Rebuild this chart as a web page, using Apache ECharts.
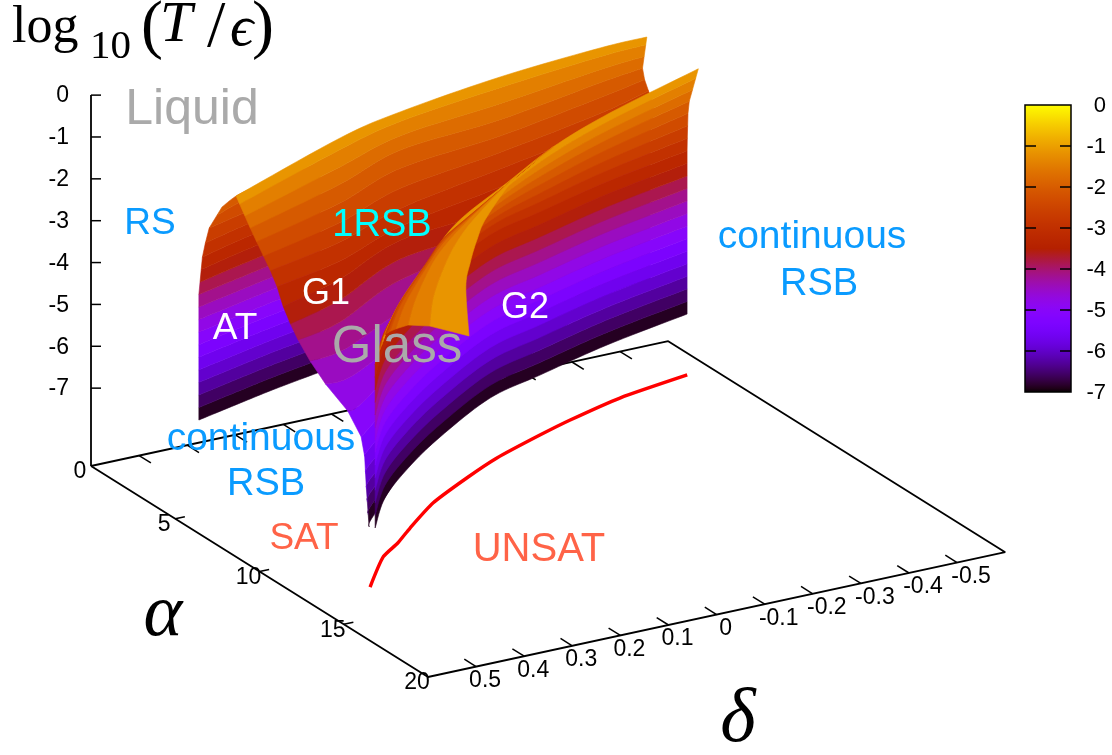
<!DOCTYPE html>
<html><head><meta charset="utf-8">
<style>html,body{margin:0;padding:0;background:#fff}#c{width:1112px;height:755px}</style>
<script src="https://cdn.jsdelivr.net/npm/echarts@6/dist/echarts.min.js"></script>
</head><body><div id="c"></div>
<script>
// ---------- axis ticks ----------
const alphaTicks=[0,5,10,15,20];
const deltaTicks=[0.5,0.4,0.3,0.2,0.1,0,-0.1,-0.2,-0.3,-0.4,-0.5];
const zTicks=[0,-1,-2,-3,-4,-5,-6,-7];
const cbTicks=[0,-1,-2,-3,-4,-5,-6,-7];
// ---------- SAT/UNSAT line on the floor ----------
const satAlpha=[12.78,10.86,10.10,9.23,7.82,6.57,5.62,4.66,4.06,3.27,2.67];
const satDelta=[0.4675,0.373,0.316,0.26,0.163,0.049,-0.047,-0.17,-0.254,-0.385,-0.546];
// ---------- AT sheet: rows are log10(T/eps), columns run along the sheet ----------
const atZ=[-7,-4,-3,-2.5,-2];
const atAlpha=[[3.89,3.32,2.86,2.35],[3.89,3.32,2.86,2.35],[3.98,3.32,2.86,2.35],[3.79,3.32,2.86,2.35],[3.98,3.32,2.86,2.35]];
const atDelta=[[0.512,0.406,0.318,0.206],[0.512,0.406,0.318,0.206],[0.507,0.406,0.318,0.206],[0.487,0.406,0.318,0.206],[0.467,0.406,0.318,0.206]];
// ---------- G1 sheet ----------
const g1Z=[-7,-6,-5.3,-5,-4.5,-4,-3.5,-3,-2,-1.1];
const g1Alpha=[
[14.02,13.25,9.37,5.66,1.55,0.90],
[13.96,13.14,10.2,6.49,1.67,1.03],
[13.18,12.71,9.45,6.44,1.62,0.98],
[12.17,11.76,8.23,5.92,1.46,0.81],
[9.91,9.76,7.58,5.28,1.87,0.52],
[8.61,7.98,5.93,4.64,1.93,0.23],
[7.99,6.85,4.95,4.36,2.00,0.30],
[6.98,6.21,4.80,3.36,2.07,0.79],
[6.20,4.58,3.03,2.44,1.29,0.87],
[6.07,3.57,2.65,1.71,1.19,1.13]];
const g1Delta=[
[0.513,0.476,0.244,-0.052,-0.404,-0.531],
[0.517,0.476,0.274,-0.023,-0.400,-0.526],
[0.494,0.465,0.247,-0.025,-0.401,-0.528],
[0.477,0.442,0.204,-0.043,-0.407,-0.534],
[0.475,0.403,0.182,-0.065,-0.393,-0.544],
[0.471,0.362,0.165,-0.088,-0.391,-0.554],
[0.476,0.322,0.131,-0.098,-0.388,-0.552],
[0.462,0.300,0.126,-0.133,-0.386,-0.545],
[0.4825,0.243,0.064,-0.165,-0.413,-0.515],
[0.511,0.207,0.050,-0.191,-0.417,-0.516]];
// ---------- G2 sheet ----------
const g2Z=[-7,-5,-3,-2,-1.05];
const g2Alpha=[
[14.18,12.22,10.46,8.76,6.78,5.92,4.82,3.86],
[14.18,12.22,10.46,8.76,6.78,5.92,4.82,3.86],
[14.18,12.22,10.46,8.76,6.78,5.92,4.82,3.86],
[16.27,14.27,12.11,10.05,8.06,6.68,5.28,3.90],
[18.28,16.25,13.84,11.48,9.43,7.59,6.06,4.30]];
const g2Delta=[
[0.506,0.417,0.307,0.181,0.008,-0.126,-0.304,-0.504],
[0.506,0.417,0.307,0.181,0.008,-0.126,-0.304,-0.504],
[0.506,0.417,0.307,0.181,0.008,-0.126,-0.304,-0.504],
[0.567,0.472,0.345,0.208,0.034,-0.114,-0.290,-0.505],
[0.630,0.528,0.387,0.242,0.066,-0.095,-0.267,-0.512]];
// ---------- fold of the G2 sheet (columns are across, rows run along) ----------
const foldZ=[-2.8,-2,-1.6,-1.3,-1];
const foldAlpha=[
[13.12,15.24,16.31,17.60,19.78],
[11.21,13.50,14.53,15.55,16.28],
[8.80,11.14,12.32,13.41,14.65],
[7.30,9.71,10.96,11.97,13.14],
[6.07,8.47,9.67,10.62,11.67],
[4.25,6.55,7.68,8.51,9.24],
[2.44,4.80,5.97,6.93,7.95]];
const foldDelta=[
[0.449,0.508,0.512,0.512,0.507],
[0.354,0.424,0.433,0.432,0.391],
[0.214,0.290,0.321,0.332,0.325],
[0.126,0.204,0.238,0.256,0.258],
[0.029,0.109,0.147,0.172,0.186],
[-0.122,-0.044,-0.006,0.021,0.038],
[-0.275,-0.192,-0.151,-0.118,-0.082]];

const T=m=>m[0].map((_,i)=>m.map(r=>r[i]));
const sheets=[
 {z:atZ,alpha:atAlpha,delta:atDelta},
 {z:g1Z,alpha:g1Alpha,delta:g1Delta},
 {z:g2Z,alpha:g2Alpha,delta:g2Delta},
 {z:foldZ,alpha:T(foldAlpha),delta:T(foldDelta)}
];
// ---------- view of the box (parallel projection) ----------
const Z_FLOOR=-8.86, D0=0.6;
function project(a,d,z){
  const w=D0-d;
  return [91+16.85*a+481*w, 466+10.55*a-104*w-41.86*(z-Z_FLOOR)];
}
function palette(x){
  x=Math.max(0,Math.min(1,x));
  const r=Math.sqrt(x),g=x*x*x,b=Math.max(0,Math.sin(2*Math.PI*x));
  return 'rgb('+Math.round(r*255)+','+Math.round(g*255)+','+Math.round(b*255)+')';
}
const STEP=0.3;
const zColor=z=>palette((z+7)/7);

function contour(sh,z){
  const rows=sh.z, nc=sh.alpha[0].length;
  let i=0; while(i<rows.length-2&&z>rows[i+1]) i++;
  const t=(z-rows[i])/(rows[i+1]-rows[i]);
  const p=[];
  for(let c=0;c<nc;c++){
    const a=sh.alpha[i][c]+t*(sh.alpha[i+1][c]-sh.alpha[i][c]);
    const d=sh.delta[i][c]+t*(sh.delta[i+1][c]-sh.delta[i][c]);
    p.push(project(a,d,z));
  }
  const out=[];
  for(let c=0;c<nc-1;c++){
    const p0=p[Math.max(c-1,0)],p1=p[c],p2=p[c+1],p3=p[Math.min(c+2,nc-1)];
    for(let k=0;k<10;k++){
      const u=k/10,u2=u*u,u3=u2*u;
      out.push([0,1].map(j=>0.5*(2*p1[j]+(p2[j]-p0[j])*u+(2*p0[j]-5*p1[j]+4*p2[j]-p3[j])*u2+(3*p1[j]-p0[j]-3*p2[j]+p3[j])*u3)));
    }
  }
  out.push(p[nc-1]);
  return out;
}
function bandsOf(sIdx){
  const sh=sheets[sIdx],zmin=sh.z[0],zmax=sh.z[sh.z.length-1],res=[];
  for(let k=0;k<24;k++){
    const lo=-7+k*STEP,hi=lo+STEP;
    if(hi<=zmin||lo>=zmax) continue;
    res.push([sIdx,Math.max(lo,zmin),Math.min(hi,zmax),lo+STEP/2]);
  }
  return res;
}
const bandRender=(params,api)=>{
  const sh=sheets[api.value(0)],z1=api.value(1),z2=api.value(2),c=zColor(api.value(3));
  const low=contour(sh,z1),high=contour(sh,z2).reverse();
  const pts=low.concat(high).map(q=>api.coord(q));
  return {type:'polygon',shape:{points:pts},style:{fill:c,stroke:c,lineWidth:0.6},silent:true};
};
const surf=i=>({type:'custom',coordinateSystem:'cartesian2d',renderItem:bandRender,data:bandsOf(i),
  encode:{x:[],y:[]},silent:true,clip:false,animation:false,z:10+i});

const frameA=[[0,0.6],[20,0.6],[20,-0.6],[0,-0.6],[0,0.6]];
const frameData=frameA.map(p=>project(p[0],p[1],Z_FLOOR));
const zAxisData=[project(0,0.6,0),project(0,0.6,Z_FLOOR)];
const satData=satAlpha.map((a,i)=>project(a,satDelta[i],Z_FLOOR));

function tickSegs(){
  const s=[];
  alphaTicks.slice(1,4).forEach(a=>s.push([project(a,0.6,Z_FLOOR),project(a,0.58,Z_FLOOR)]));
  deltaTicks.forEach(d=>{
    s.push([project(20,d,Z_FLOOR),project(19.3,d,Z_FLOOR)]);
    s.push([project(0,d,Z_FLOOR),project(0.7,d,Z_FLOOR)]);
  });
  zTicks.forEach(z=>{const p=project(0,0.6,z);s.push([p,[p[0]+10,p[1]]]);});
  return s;
}
const CB={x0:1025,x1:1071,y0:105,perUnit:41};
const cbY=z=>CB.y0-z*CB.perUnit;
const cbSegs=[];
cbTicks.slice(1,7).forEach(z=>{const y=cbY(z);
  cbSegs.push([[CB.x0,y],[CB.x0+11,y]]);cbSegs.push([[CB.x1-11,y],[CB.x1,y]]);});

const segRender=(segs,w)=>(p,api)=>{const s=segs[p.dataIndex];const a=api.coord(s[0]),b=api.coord(s[1]);
  return {type:'line',shape:{x1:a[0],y1:a[1],x2:b[0],y2:b[1]},style:{stroke:'#000',lineWidth:w}};};
const allTicks=tickSegs();

const cbStops=[];for(let i=0;i<=70;i++){cbStops.push({offset:i/70,color:palette(1-i/70)});}
const cbRender=(p,api)=>{const a=api.coord([CB.x0,cbY(0)]),b=api.coord([CB.x1,cbY(-7)]);
  return {type:'rect',shape:{x:a[0],y:a[1],width:b[0]-a[0],height:b[1]-a[1]},
   style:{fill:{type:'linear',x:0,y:0,x2:0,y2:1,colorStops:cbStops},stroke:'#000',lineWidth:1.5}};};

const SANS='"Liberation Sans",Arial,sans-serif',SERIF='"Liberation Serif",serif';
const texts=[];
function txt(s,x,y,size,color,font,align,style){texts.push({s,x,y:font?y:y+2,size,color,font:font||SANS,align:align||'center',style:style||'normal'});}
zTicks.forEach(z=>{const p=project(0,0.6,z);txt(String(z),69,p[1]-1,23,'#000',null,'right');});
alphaTicks.forEach(a=>{const p=project(a,0.6,Z_FLOOR);txt(String(a),p[0]-11,p[1]+4,23,'#000');});
deltaTicks.forEach(d=>{const p=project(20,d,Z_FLOOR);txt(String(d),p[0]+(d<0?14:9),p[1]+12,23,'#000');});
cbTicks.forEach(z=>txt(String(z),1106,cbY(z)-1,22,'#000',null,'right'));
txt('log',12,28,52,'#000',SERIF,'left');
txt('10',90,47,41,'#000',SERIF,'left');
txt('(',141,29,66,'#000',SERIF,'left');
txt('T',160,26,58,'#000',SERIF,'left','italic');
txt('/',207,29,66,'#000',SERIF,'left');
txt('\u03f5',230,30,58,'#000',SERIF,'left','italic');
txt(')',252,29,66,'#000',SERIF,'left');
txt('\u03b1',163,616,74,'#000',SERIF,'center','italic');
txt('\u03b4',738,721,76,'#000',SERIF,'center','italic');
const BLUE='#0a9bff',TOM='#ff6347',GR='#aaaaaa';
txt('Liquid',192,108,50,GR);
txt('RS',150,222,37,BLUE);
txt('1RSB',382,224,38,'#00ffff');
txt('G1',326,292,36,'#fff');
txt('AT',235,327,37,'#fff');
txt('Glass',397,346,51,GR);
txt('G2',525,306,36,'#fff');
txt('continuous',812,235,39,BLUE);
txt('RSB',819,283,38,BLUE);
txt('continuous',261,437,39,BLUE);
txt('RSB',266,483,38,BLUE);
txt('SAT',304,537,37,TOM);
txt('UNSAT',539,548,40,TOM);
const textRender=(p,api)=>{const t=texts[p.dataIndex],c=api.coord([t.x,t.y]);
  return {type:'text',x:c[0],y:c[1],style:{text:t.s,fill:t.color,
    font:t.style+' '+t.size+'px '+t.font,align:t.align,verticalAlign:'middle',textAlign:t.align,textBaseline:'middle'},silent:true};};

const chart=echarts.init(document.getElementById('c'),null,{renderer:'canvas',width:1112,height:755});
const blackLine=(d,w)=>({type:'line',data:d,showSymbol:false,symbol:'none',silent:true,animation:false,clip:false,z:1,lineStyle:{color:'#000',width:w},itemStyle:{color:'#000'}});
const customBase={encode:{x:[],y:[]},silent:true,animation:false,clip:false};
chart.setOption({
  animation:false,backgroundColor:'#fff',
  grid:{left:0,right:0,top:0,bottom:0},
  xAxis:{type:'value',min:0,max:1112,show:false},
  yAxis:{type:'value',min:0,max:755,inverse:true,show:false},
  tooltip:{show:false},legend:{show:false},
  series:[
    blackLine(frameData,1.8),
    blackLine(zAxisData,1.8),
    Object.assign({type:'custom',z:1,renderItem:segRender(allTicks,1.5),data:allTicks.map((_,i)=>i)},customBase),
    {type:'line',data:satData,z:2,smooth:0.2,showSymbol:false,symbol:'none',silent:true,animation:false,clip:false,lineStyle:{color:'#ff0000',width:3.4},itemStyle:{color:'#ff0000'}},
    surf(0),surf(1),surf(2),surf(3),
    Object.assign({type:'custom',z:20,renderItem:cbRender,data:[0]},customBase),
    Object.assign({type:'custom',z:21,renderItem:segRender(cbSegs,1.5),data:cbSegs.map((_,i)=>i)},customBase),
    Object.assign({type:'custom',z:30,renderItem:textRender,data:texts.map((_,i)=>i)},customBase)
  ]
});
</script></body></html>
